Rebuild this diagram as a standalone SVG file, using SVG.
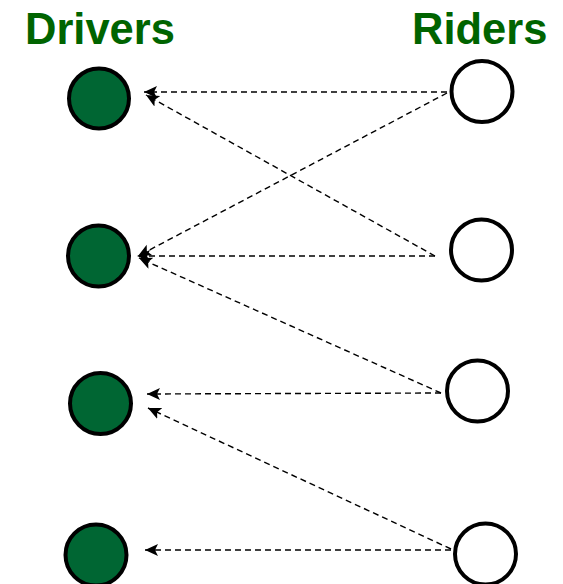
<svg xmlns="http://www.w3.org/2000/svg" width="563" height="584" viewBox="0 0 563 584">
  <style>
    .title { font-family: "Liberation Sans", Arial, sans-serif; font-weight: bold; font-size: 43.5px; fill: #006400; }
    .driver { fill: #006633; stroke: #000; stroke-width: 4; }
    .rider { fill: #fff; stroke: #000; stroke-width: 4; }
    .link { stroke: #000; stroke-width: 1.4; stroke-dasharray: 6 4; fill: none; marker-end: url(#arrow); }
  </style>
  <defs>
    <marker id="arrow" markerUnits="userSpaceOnUse" markerWidth="16" markerHeight="14" refX="13" refY="6" orient="auto">
      <path d="M0,0 L13,6 L0,12 L3,6 z" fill="#000"/>
    </marker>
  </defs>
  <rect width="563" height="584" fill="#fff"/>

  <text class="title" x="25" y="44">Drivers</text>
  <text class="title" x="412" y="44">Riders</text>

  <g id="connectors">
    <line class="link" x1="447" y1="92" x2="144" y2="92"/>
    <line class="link" x1="447" y1="93" x2="138" y2="256"/>
    <line class="link" x1="435" y1="256" x2="146" y2="95"/>
    <line class="link" x1="435" y1="256" x2="137" y2="256"/>
    <line class="link" x1="441" y1="393" x2="139" y2="258"/>
    <line class="link" x1="441" y1="393" x2="147" y2="394"/>
    <line class="link" x1="451" y1="549" x2="148" y2="408"/>
    <line class="link" x1="451" y1="550" x2="145" y2="550"/>
  </g>

  <g id="driver1"><circle class="driver" cx="99" cy="98.5" r="30"/></g>
  <g id="driver2"><circle class="driver" cx="98.5" cy="256" r="30.5"/></g>
  <g id="driver3"><circle class="driver" cx="100.5" cy="403.5" r="30.5"/></g>
  <g id="driver4"><circle class="driver" cx="96" cy="555" r="30.5"/></g>

  <g id="rider1"><circle class="rider" cx="482" cy="91.5" r="30.5"/></g>
  <g id="rider2"><circle class="rider" cx="481.5" cy="250" r="30.5"/></g>
  <g id="rider3"><circle class="rider" cx="477.5" cy="391" r="30.5"/></g>
  <g id="rider4"><circle class="rider" cx="485.5" cy="554" r="30.5"/></g>
</svg>
